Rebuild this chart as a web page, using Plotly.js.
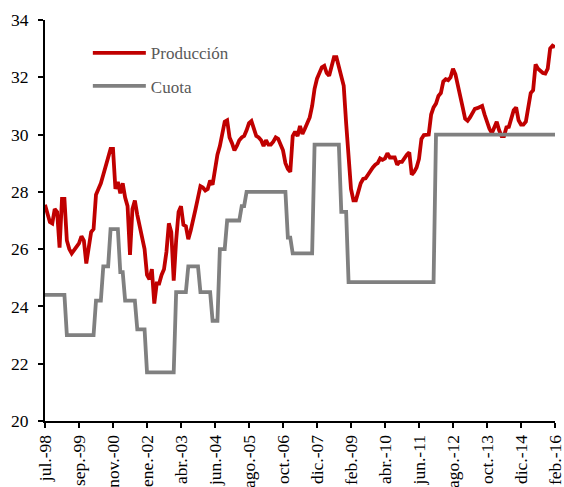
<!DOCTYPE html>
<html>
<head>
<meta charset="utf-8">
<script src="https://cdn.plot.ly/plotly-3.0.1.min.js"></script>
<style>html,body{margin:0;padding:0;background:#fff;}#chart{width:564px;height:487px;}</style>
</head>
<body>
<div id="chart"></div>
<script>
// Monthly observations, jul-98 .. feb-16 (211 points, plotted by position index)
const produccion = [
27.55,27.2,26.95,26.9,27.4,27.3,26.05,27.75,27.75,26.3,
26.0,25.85,25.95,26.05,26.2,26.45,26.3,25.5,26.0,26.6,
26.7,27.9,28.1,28.3,28.6,28.9,29.1,29.5,29.5,28.1,
28.35,27.95,28.3,27.8,27.5,25.8,27.4,27.7,27.2,26.8,
26.4,26.0,25.1,24.95,25.3,24.1,24.8,24.8,25.1,25.3,
25.9,26.9,26.6,24.9,26.3,27.3,27.5,26.85,26.8,26.35,
26.65,27.1,27.4,27.8,28.2,28.15,28.05,28.1,28.4,28.25,
28.75,29.3,29.6,30.0,30.45,30.5,29.9,29.7,29.45,29.6,
29.8,29.9,29.95,30.15,30.4,30.47,30.25,29.95,29.9,29.8,
29.6,29.8,29.65,29.65,29.75,29.9,29.85,29.65,29.45,29.0,
28.8,28.7,29.95,30.1,29.95,30.3,30.02,30.2,30.4,30.6,
31.0,31.6,31.95,32.2,32.35,32.4,32.15,32.05,32.4,32.7,
32.7,32.4,32.1,31.7,30.4,29.0,28.1,27.7,27.7,28.0,
28.3,28.45,28.47,28.6,28.75,28.85,28.95,29.0,29.17,29.12,
29.17,29.35,29.2,29.2,29.2,28.95,29.05,29.05,29.2,29.3,
29.38,28.6,28.7,28.85,29.15,29.85,29.98,29.98,30.0,30.7,
30.95,31.08,31.35,31.45,31.85,31.93,31.9,32.0,32.3,32.1,
31.75,31.4,30.95,30.55,30.48,30.6,30.75,30.9,30.92,30.95,
31.0,30.7,30.4,30.2,30.05,30.25,30.45,30.15,29.95,29.95,
30.25,30.27,30.6,30.85,30.95,30.5,30.35,30.35,30.45,30.9,
31.45,31.55,32.45,32.3,32.2,32.15,32.13,32.3,33.0,33.1,
33.05
];
const cuota = [
24.4,24.4,24.4,24.4,24.4,24.4,24.4,24.4,24.4,
23.0,23.0,23.0,23.0,23.0,23.0,23.0,23.0,23.0,23.0,23.0,23.0,
24.2,24.2,24.2,
25.4,25.4,25.4,
26.7,26.7,26.7,26.7,
25.2,25.2,
24.2,24.2,24.2,24.2,24.2,
23.2,23.2,23.2,23.2,
21.7,21.7,21.7,21.7,21.7,21.7,21.7,21.7,21.7,21.7,21.7,21.7,
24.5,24.5,24.5,24.5,24.5,
25.4,25.4,25.4,25.4,25.4,
24.5,24.5,24.5,24.5,24.5,
23.5,23.5,23.5,
26.0,26.0,26.0,
27.0,27.0,27.0,27.0,27.0,27.0,
27.5,27.5,
28.0,28.0,28.0,28.0,28.0,28.0,28.0,28.0,28.0,28.0,28.0,28.0,28.0,28.0,28.0,28.0,28.0,
26.4,26.4,
25.85,25.85,25.85,25.85,25.85,25.85,25.85,25.85,25.85,
29.65,29.65,29.65,29.65,29.65,29.65,29.65,29.65,29.65,29.65,29.65,
27.3,27.3,27.3,
24.85,24.85,24.85,24.85,24.85,24.85,24.85,24.85,24.85,24.85,24.85,24.85,
24.85,24.85,24.85,24.85,24.85,24.85,24.85,24.85,24.85,24.85,24.85,24.85,
24.85,24.85,24.85,24.85,24.85,24.85,24.85,24.85,24.85,24.85,24.85,24.85,
30,30,30,30,30,30,30,30,30,30,30,30,30,30,30,30,30,30,30,30,30,30,30,30,30,
30,30,30,30,30,30,30,30,30,30,30,30,30,30,30,30,30,30,30,30,30,30,30,30,30
];
const tickPos = [0,14,28,42,56,70,84,98,112,126,140,154,168,182,196,210];
const tickLabels = ["jul.-98","sep.-99","nov.-00","ene.-02","abr.-03","jun.-04","ago.-05","oct.-06",
  "dic.-07","feb.-09","abr.-10","jun.-11","ago.-12","oct.-13","dic.-14","feb.-16"];
const yTicks = [20,22,24,26,28,30,32,34];

const font = "Times New Roman, Liberation Serif, serif";
const traces = [
  {y: produccion, x0: 0, dx: 1, type: 'scatter', mode: 'lines', name: 'Producción',
   legendgroup: 'a', line: {color: '#C00000', width: 3.8}},
  {y: cuota, x0: 0, dx: 1, type: 'scatter', mode: 'lines', name: 'Cuota',
   legendgroup: 'b', line: {color: '#808080', width: 3.8}}
];
const layout = {
  width: 564, height: 487,
  margin: {l: 45, r: 8.5, t: 20, b: 65.5},
  paper_bgcolor: '#fff', plot_bgcolor: '#fff',
  font: {family: font, size: 17, color: '#000'},
  showlegend: true,
  legend: {x: 0.084, y: 0.962, xanchor: 'left', yanchor: 'top', bgcolor: 'rgba(0,0,0,0)',
    font: {family: font, size: 17, color: '#595959'}, itemwidth: 53, tracegroupgap: 8,
    traceorder: 'grouped'},
  xaxis: {range: [0, 210], tickmode: 'array', tickvals: tickPos, ticktext: tickLabels,
    tickangle: -90, showgrid: false, zeroline: false, showline: true, linecolor: '#000', linewidth: 2,
    ticks: 'outside', ticklen: 5, tickwidth: 2, tickcolor: '#000', ticklabeloverflow: 'allow',
    tickfont: {family: font, size: 17.5, color: '#000'}},
  yaxis: {range: [20, 34], tickmode: 'array', tickvals: yTicks, showgrid: false, zeroline: false,
    showline: true, linecolor: '#000', linewidth: 2, ticks: 'outside', ticklen: 5, tickwidth: 2,
    tickcolor: '#000', ticklabelstandoff: 6, tickfont: {family: font, size: 17.5, color: '#000'}}
};
Plotly.newPlot('chart', traces, layout, {displayModeBar: false, staticPlot: true});
</script>
</body>
</html>
